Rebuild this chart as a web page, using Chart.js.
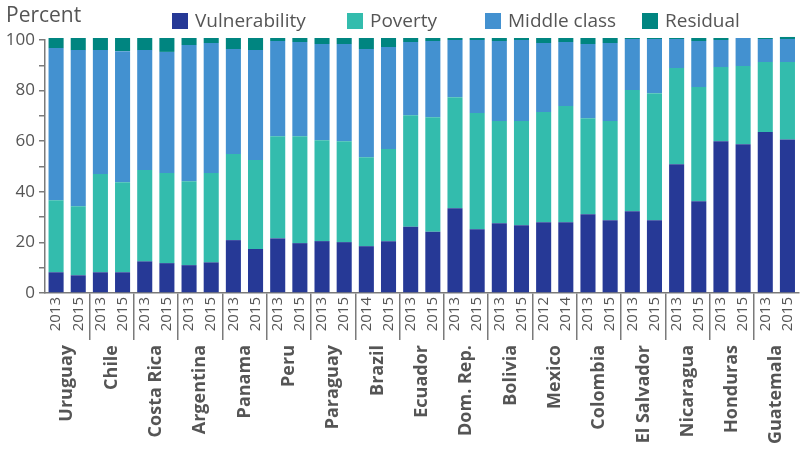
<!DOCTYPE html>
<html>
<head>
<meta charset="utf-8">
<script src="https://cdn.jsdelivr.net/npm/chart.js@4"></script>
<style>
  body { margin: 0; background: #fff; font-family: "Open Sans", sans-serif; color: #555; }
  #wrap { position: relative; width: 800px; height: 451px; }
  #title { position: absolute; left: 6px; top: 0px; font-size: 21px; }
  .item { position: absolute; top: 5px; font-size: 19px; line-height: 30px; white-space: nowrap; }
  .item span { position: absolute; left: 0; top: 8px; width: 16px; height: 16px; }
  .item b { font-weight: normal; margin-left: 23px; }
  canvas { position: absolute; left: 0; top: 0; }
</style>
</head>
<body>
<div id="wrap">
  <canvas id="chart-poverty" width="800" height="451"></canvas>
  <div id="title">Percent</div>
  <div id="legend"></div>
</div>
<script>
let years = [
  "2013", "2015", "2013", "2015", "2013", "2015", "2013", "2015", "2013", "2015",
  "2013", "2015", "2013", "2015", "2014", "2015", "2013", "2015", "2013", "2015",
  "2013", "2015", "2012", "2014", "2013", "2015", "2013", "2015", "2013", "2015",
  "2013", "2015", "2013", "2015",
];

let countries = [
  "Uruguay", "Chile", "Costa Rica", "Argentina", "Panama", "Peru", "Paraguay",
  "Brazil", "Ecuador", "Dom. Rep.", "Bolivia", "Mexico", "Colombia",
  "El Salvador", "Nicaragua", "Honduras", "Guatemala",
];

let vulnerability = [
  8.2, 7.0, 8.2, 8.2, 12.5, 11.8, 11.0, 12.1, 20.9, 17.4,
  21.6, 19.7, 20.5, 20.1, 18.5, 20.5, 26.2, 24.2, 33.5, 25.2,
  27.6, 26.8, 28.0, 28.0, 31.1, 28.8, 32.3, 28.8, 50.9, 36.3,
  60.0, 58.8, 63.6, 60.7,
];

let poverty = [
  28.5, 27.3, 38.8, 35.6, 36.1, 35.6, 33.2, 35.3, 34.0, 35.2,
  40.4, 42.3, 39.9, 39.9, 35.2, 36.4, 44.1, 45.3, 43.9, 45.9,
  40.4, 41.2, 43.5, 45.9, 38.0, 39.2, 47.9, 50.2, 38.0, 45.1,
  29.3, 30.9, 27.7, 30.6,
];

let middleClass = [
  60.1, 61.7, 49.0, 51.8, 47.4, 47.9, 53.8, 51.4, 41.5, 43.4,
  37.6, 37.2, 38.0, 38.4, 42.7, 40.3, 28.9, 30.1, 22.6, 28.9,
  31.6, 32.0, 27.3, 25.3, 29.3, 30.8, 20.2, 21.4, 11.5, 18.2,
  10.7, 11.1, 9.1, 9.1,
];

let residual = [
  4.0, 4.8, 4.8, 5.2, 4.8, 5.5, 2.8, 2.0, 4.4, 4.8,
  1.2, 1.6, 2.4, 2.4, 4.4, 3.6, 1.6, 1.2, 0.8, 0.8,
  1.2, 0.8, 2.0, 1.6, 2.4, 2.0, 0.4, 0.4, 0.4, 1.2,
  0.8, 0.0, 0.4, 0.8,
];

let seriesNames = ["Vulnerability", "Poverty", "Middle class", "Residual"];
let seriesColors = ["#263996", "#33bcad", "#4391d0", "#008580"];
let legendLeft = [172, 347, 485, 642];

let fontFamily = '"Open Sans", sans-serif';
let axisGrey = "#7a7a7a";

let makeDataset = function (index, values) {
  return {
    label: seriesNames[index],
    data: values,
    backgroundColor: seriesColors[index],
    borderWidth: 0,
    barPercentage: 0.68,
    categoryPercentage: 1,
    clip: false,
  };
};

let chartDraw = function () {
  let ctx = document.getElementById("chart-poverty").getContext("2d");

  window.povertyChart = new Chart(ctx, {
    type: "bar",
    data: {
      labels: years,
      datasets: [
        makeDataset(0, vulnerability),
        makeDataset(1, poverty),
        makeDataset(2, middleClass),
        makeDataset(3, residual),
      ],
    },
    options: {
      responsive: false,
      animation: false,
      layout: { padding: { top: 40, left: 0, right: 0, bottom: 0 } },
      plugins: {
        legend: { display: false },
        tooltip: { enabled: false },
      },
      scales: {
        x: {
          stacked: true,
          offset: true,
          weight: 0,
          grid: {
            offset: true,
            drawOnChartArea: false,
            tickLength: 47,
            lineWidth: 1.5,
            color: function (c) {
              return c.index > 0 && c.index % 2 === 0 ? axisGrey : "rgba(0,0,0,0)";
            },
          },
          border: { color: axisGrey, width: 1.5 },
          ticks: {
            padding: -43,
            minRotation: 90,
            maxRotation: 90,
            autoSkip: false,
            color: "#555",
            font: { family: fontFamily, size: 15 },
          },
          afterFit: function (scale) {
            scale.height = 50;
          },
        },
        x2: {
          type: "category",
          labels: countries,
          position: "bottom",
          offset: true,
          weight: 1,
          grid: { display: false, drawTicks: false },
          border: { display: false },
          ticks: {
            padding: 2,
            minRotation: 90,
            maxRotation: 90,
            autoSkip: false,
            color: "#555",
            font: { family: fontFamily, size: 18, weight: "bold" },
          },
          afterFit: function (scale) {
            scale.height = 108;
          },
        },
        y: {
          stacked: true,
          min: 0,
          max: 100,
          grid: {
            drawOnChartArea: false,
            tickLength: 6,
            lineWidth: 1.5,
            color: axisGrey,
          },
          border: { color: axisGrey, width: 1.5 },
          ticks: {
            stepSize: 10,
            padding: 4,
            color: "#555",
            font: { family: fontFamily, size: 17 },
            callback: function (value) {
              return value % 20 === 0 ? value : "";
            },
          },
          afterFit: function (scale) {
            scale.width = 45;
          },
        },
      },
    },
  });

  document.getElementById("legend").innerHTML = customLegend();
};

let customLegend = function () {
  let html = "";
  seriesNames.forEach(function (label, index) {
    html += `<div class="item" style="left:${legendLeft[index]}px"><span style="background-color:${seriesColors[index]}"></span><b>${label}</b></div>`;
  });
  return html;
};

window.onload = function () {
  chartDraw();
};
</script>
</body>
</html>
